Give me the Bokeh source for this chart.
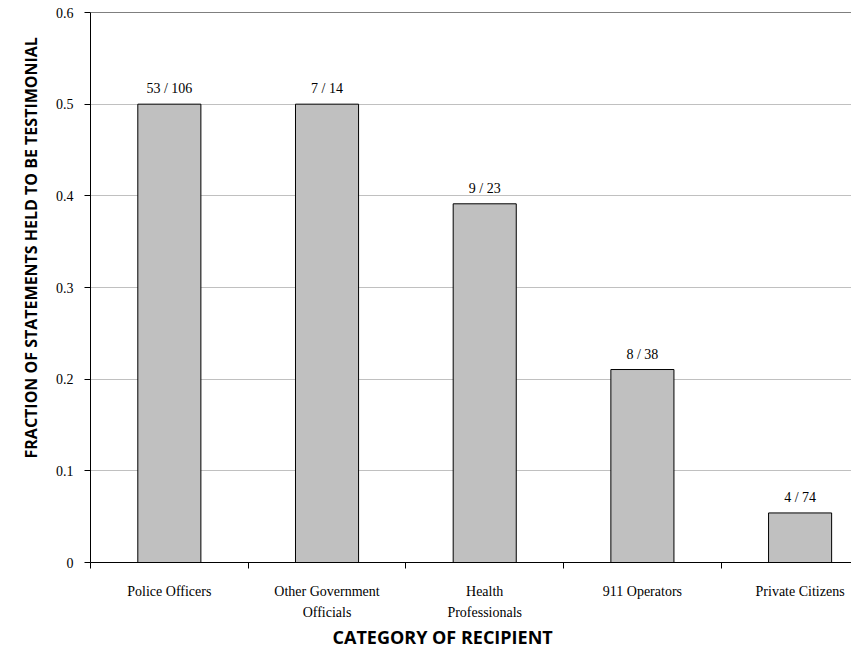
from bokeh.plotting import figure
from bokeh.models import Range1d, FixedTicker, LinearAxis, Span, ColumnDataSource, Title
from bokeh.core.properties import value
from bokeh.embed import file_html
from bokeh.resources import INLINE

# ---- data ----
categories = ["Police Officers", "Other Government\nOfficials", "Health\nProfessionals",
              "911 Operators", "Private Citizens"]
numerators = [53, 7, 9, 8, 4]
denominators = [106, 14, 23, 38, 74]
y_ticks = [0, 0.1, 0.2, 0.3, 0.4, 0.5, 0.6]
y_tick_labels = ["0", "0.1", "0.2", "0.3", "0.4", "0.5", "0.6"]

fractions = [n / d for n, d in zip(numerators, denominators)]
centers = [i + 0.5 for i in range(len(categories))]
bar_labels = [f"{n} / {d}" for n, d in zip(numerators, denominators)]
line1 = [c.split("\n")[0] for c in categories]
line2 = [c.split("\n")[1] if "\n" in c else "" for c in categories]

SERIF = "Liberation Serif"
SANS = "Open Sans"

p = figure(width=851, height=648, x_range=Range1d(0, 4.826), y_range=Range1d(0, 0.6),
           output_backend="svg", toolbar_location=None,
           min_border_left=90, min_border_right=0, min_border_top=12, min_border_bottom=86)
p.outline_line_color = None
p.background_fill_color = "white"
p.border_fill_color = "white"

# grid
p.xgrid.visible = False
p.ygrid.ticker = FixedTicker(ticks=y_ticks[1:-1])
p.ygrid.grid_line_color = "#c0c0c0"
p.ygrid.grid_line_width = 1

p.add_layout(Span(location=0.6, dimension="width", line_color="black", line_width=1))

# bars
src = ColumnDataSource(dict(x=centers, top=fractions, label=bar_labels))
p.vbar(x="x", top="top", bottom=0, width=0.4, source=src,
       fill_color="#c0c0c0", line_color="black", line_width=1)
p.text(x="x", y="top", text="label", source=src, y_offset=-8,
       text_align="center", text_baseline="bottom",
       text_font=value(SERIF), text_font_size="14px", text_color="black")

# y axis
ya = p.yaxis[0]
ya.ticker = FixedTicker(ticks=y_ticks, minor_ticks=[])
ya.major_label_overrides = {t: l for t, l in zip(y_ticks, y_tick_labels)}
ya.major_tick_out = 6
ya.major_tick_in = 0
ya.major_tick_line_color = "black"
ya.axis_line_color = "black"
ya.major_label_standoff = 11
ya.major_label_text_font = SERIF
ya.major_label_text_font_size = "14px"
ya.major_label_text_color = "black"

# x axis (first line of category labels + boundary ticks)
xa = p.xaxis[0]
xa.ticker = FixedTicker(ticks=centers, minor_ticks=list(range(len(categories) + 1)))
xa.major_label_overrides = {c: l for c, l in zip(centers, line1)}
xa.major_tick_out = 0
xa.major_tick_in = 0
xa.minor_tick_out = 6
xa.minor_tick_in = 0
xa.minor_tick_line_color = "black"
xa.axis_line_color = "black"
xa.major_label_standoff = 15
xa.major_label_text_font = SERIF
xa.major_label_text_font_size = "14px"
xa.major_label_text_color = "black"

# second line of category labels
xb = LinearAxis(ticker=FixedTicker(ticks=centers, minor_ticks=[]))
xb.major_label_overrides = {c: l for c, l in zip(centers, line2)}
xb.axis_line_color = None
xb.major_tick_line_color = None
xb.minor_tick_line_color = None
xb.major_tick_out = 0
xb.major_tick_in = 0
xb.major_label_standoff = 3
xb.major_label_text_font = SERIF
xb.major_label_text_font_size = "14px"
xb.major_label_text_color = "black"
p.add_layout(xb, "below")

# axis titles
p.add_layout(Title(text="FRACTION OF STATEMENTS HELD TO BE TESTIMONIAL", align="left",
                   offset=104, standoff=22, text_font=SANS, text_font_style="bold",
                   text_font_size="16px", text_color="black"), "left")
p.add_layout(Title(text="CATEGORY OF RECIPIENT", align="left", offset=242, standoff=0,
                   text_font=SANS, text_font_style="bold", text_font_size="18px",
                   text_color="black"), "below")

open("out.html", "w").write(file_html(p, INLINE))
